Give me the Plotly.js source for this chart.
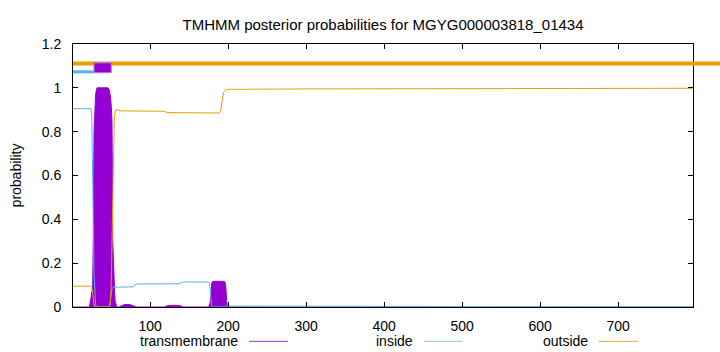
<!DOCTYPE html>
<html>
<head>
<meta charset="utf-8">
<script src="https://cdn.plot.ly/plotly-3.0.1.min.js"></script>
<style>html,body{margin:0;padding:0;background:#fff}#chart{width:720px;height:352px}</style>
</head>
<body>
<div id="chart"></div>
<script>
// ---- data ----
var seqLength = 796;
var tmX   = [1, 22, 24, 25, 26, 27, 28, 29, 30, 31, 32, 46, 47, 48, 49, 50, 51, 52, 53, 54, 55, 57, 60, 63, 67, 74, 78, 82, 118, 122, 130, 138, 143, 175, 177, 178, 179, 180, 195, 196, 197, 198, 199, 796];
var tmY   = [0, 0, 0.04, 0.07, 0.05, 0.3, 0.8, 0.93, 0.97, 0.99, 1.0, 1.0, 0.995, 0.98, 0.96, 0.92, 0.85, 0.3, 0.15, 0.1, 0.03, 0, 0, 0.005, 0.011, 0.011, 0.006, 0, 0, 0.006, 0.008, 0.006, 0, 0, 0.02, 0.08, 0.11, 0.117, 0.117, 0.112, 0.09, 0.03, 0, 0];
var inX   = [1, 24, 25, 26, 27, 28, 29, 30, 31, 47, 48, 49, 50, 51, 53, 78, 80, 83, 137, 140, 143, 174, 176, 177, 178, 179, 180, 196, 198, 380, 400, 796];
var inY   = [0.905, 0.905, 0.88, 0.7, 0.4, 0.15, 0.05, 0.01, 0, 0, 0.01, 0.04, 0.07, 0.085, 0.09, 0.092, 0.1, 0.105, 0.106, 0.112, 0.114, 0.114, 0.11, 0.08, 0.03, 0.005, 0, 0, 0.004, 0.004, 0.001, 0.001];
var outX  = [1, 24, 25, 26, 27, 28, 29, 48, 49, 50, 51, 52, 53, 54, 56, 58, 62, 118, 122, 188, 190, 192, 194, 197, 200, 300, 383, 796];
var outY  = [0.095, 0.095, 0.09, 0.07, 0.04, 0.01, 0, 0, 0.02, 0.1, 0.3, 0.6, 0.8, 0.87, 0.9, 0.9, 0.895, 0.893, 0.887, 0.885, 0.89, 0.94, 0.98, 0.99, 0.993, 0.995, 0.996, 0.998];
// predicted topology
var insideSegStart = [1],  insideSegEnd = [28];
var tmSegStart = [28],     tmSegEnd = [50];
var outsideSegStart = [1], outsideSegEnd = [796];
var xTicks = [100, 200, 300, 400, 500, 600, 700];
var yTicks = [0, 0.2, 0.4, 0.6, 0.8, 1, 1.2];
var yTickText = ['0', '0.2', '0.4', '0.6', '0.8', '1', '1.2'];
var legendNames = ['transmembrane', 'inside', 'outside'];
var titleText = 'TMHMM posterior probabilities for MGYG000003818_01434';

// ---- styles ----
var cTM = '#9400D3', cIn = '#56B4E9', cOut = '#E69F00';
var legendColors = ['#9b30d9', '#8cc4e6', '#e8a93a'];
var yInside = 1.073, yOutside = 1.111, yBoxLo = 1.069, yBoxHi = 1.114;
var FONT = 'Liberation Sans, Arial, sans-serif';

var traces = [];
traces.push({x: tmX, y: tmY, type: 'scatter', mode: 'lines', fill: 'tozeroy',
  fillcolor: cTM, line: {color: cTM, width: 1}, showlegend: false, hoverinfo: 'skip'});
traces.push({x: inX, y: inY, type: 'scatter', mode: 'lines',
  line: {color: cIn, width: 1}, showlegend: false, hoverinfo: 'skip'});
traces.push({x: outX, y: outY, type: 'scatter', mode: 'lines',
  line: {color: cOut, width: 1}, showlegend: false, hoverinfo: 'skip'});
for (var i = 0; i < outsideSegStart.length; i++) {
  traces.push({x: [outsideSegStart[i], outsideSegEnd[i]], y: [yOutside, yOutside], type: 'scatter', mode: 'lines',
    line: {color: cOut, width: 4}, showlegend: false, hoverinfo: 'skip'});
}
for (var i = 0; i < insideSegStart.length; i++) {
  traces.push({x: [insideSegStart[i], insideSegEnd[i]], y: [yInside, yInside], type: 'scatter', mode: 'lines',
    line: {color: cIn, width: 3}, showlegend: false, hoverinfo: 'skip'});
}
for (var i = 0; i < tmSegStart.length; i++) {
  var a = tmSegStart[i], b = tmSegEnd[i];
  traces.push({x: [a, b, b, a, a], y: [yBoxLo, yBoxLo, yBoxHi, yBoxHi, yBoxLo], type: 'scatter', mode: 'lines',
    fill: 'toself', fillcolor: cTM, line: {color: '#b870e6', width: 1}, showlegend: false, hoverinfo: 'skip'});
}

var L = 73, R = 693, T = 44, B = 306.7, W = 720, H = 352;
var pw = R - L, ph = B - T;
var shapes = [], annotations = [];
// overhang of the outside topology line past the frame (as in the reference)
shapes.push({type: 'line', xref: 'paper', yref: 'paper', x0: 1, x1: (W - L) / pw, y0: yOutside / 1.2, y1: yOutside / 1.2,
  line: {color: cOut, width: 4}});
// legend (text, then sample line to its right)
for (var i = 0; i < legendNames.length; i++) {
  var textRight = 240 + 175 * i;
  var ly = (B - 341) / ph;
  annotations.push({xref: 'paper', yref: 'paper', x: (textRight - L) / pw, y: ly, xanchor: 'right', yanchor: 'middle',
    text: legendNames[i], showarrow: false, font: {family: FONT, size: 14, color: '#000'}});
  shapes.push({type: 'line', xref: 'paper', yref: 'paper', x0: (textRight + 9 - L) / pw, x1: (textRight + 48 - L) / pw,
    y0: ly, y1: ly, line: {color: legendColors[i], width: 1}});
}

var layout = {
  width: W, height: H,
  margin: {l: L, r: W - R, t: T, b: H - B, pad: 0},
  paper_bgcolor: '#fff', plot_bgcolor: '#fff',
  font: {family: FONT, size: 14, color: '#000'},
  title: {text: titleText, font: {family: FONT, size: 15, color: '#000'}, xref: 'paper', x: 0.5, xanchor: 'center', y: 0.93, yanchor: 'middle'},
  xaxis: {range: [1, seqLength], tickvals: xTicks, ticks: 'inside', ticklen: 5, tickcolor: '#000', showgrid: false, zeroline: false,
    showline: true, linecolor: '#000', linewidth: 1, mirror: 'ticks', ticklabelstandoff: 6, tickfont: {family: FONT, size: 14}},
  yaxis: {range: [0, 1.2], tickvals: yTicks, ticktext: yTickText, ticks: 'inside', ticklen: 5, tickcolor: '#000', showgrid: false, zeroline: false,
    showline: true, linecolor: '#000', linewidth: 1, mirror: 'ticks', ticklabelstandoff: 8, tickfont: {family: FONT, size: 14},
    title: {text: 'probability', font: {family: FONT, size: 14}, standoff: 16}},
  shapes: shapes, annotations: annotations, showlegend: false
};
Plotly.newPlot('chart', traces, layout, {staticPlot: true, displayModeBar: false});
</script>
</body>
</html>
